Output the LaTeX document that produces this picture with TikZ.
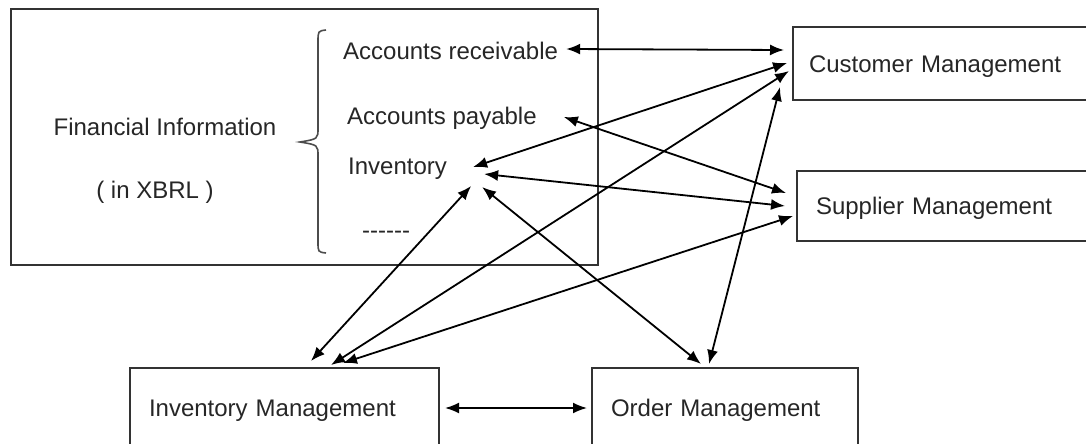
\documentclass[tikz,border=0pt]{standalone}
\usepackage{fontspec}
\setmainfont{Liberation Sans}
\usetikzlibrary{arrows.meta,calc}

\begin{document}
\begin{tikzpicture}[x=1pt,y=-1pt,
    every node/.style={font=\fontsize{24}{28}\selectfont,text=black!85,text height=17pt,text depth=0pt},
    box/.style={draw=black!80,line width=2pt,anchor=north west,align=left,inner ysep=0pt},
    item/.style={anchor=west,inner sep=0pt},
    link/.style={<->,>={Latex[length=14pt,width=11pt]},line width=1.8pt}]
      \path[use as bounding box,clip] (0,0) rectangle (1086,444);
      % financial information in XBRL
      \node[box,minimum width=587pt,minimum height=256pt] (fin) at (10,8) {};
      \node (fi) at (165,127) {Financial Information};
      \node (xb) at (155,190) {( in XBRL )};
      \draw[black!70,line width=1.6pt] (326,30) .. controls (318,31) .. (318,42) -- (318,128)
        .. controls (318,139) .. (300,142) .. controls (318,145) .. (318,156) -- (318,242)
        .. controls (318,252) .. (326,253);
      \node[item] (ar) at (343,51) {Accounts receivable};
      \node[item] (ap) at (347,116) {Accounts payable};
      \node[item] (inv) at (348,166) {Inventory};
      \node[item] (etc) at (362,230) {-\kern0pt-\kern0pt-\kern0pt-\kern0pt-\kern0pt-};
      % management systems
      \node[box,minimum height=73pt,inner xsep=16pt,text width=268pt] (cm) at (792,26) {Customer Management};
      \node[box,minimum height=70pt,inner xsep=19pt,text width=272pt] (sm) at (796,170) {Supplier Management};
      \node[box,minimum height=80pt,inner xsep=19pt,text width=271pt] (im) at (129,367) {Inventory Management};
      \node[box,minimum height=80pt,inner xsep=19pt,text width=228pt] (om) at (591,367) {Order Management};
      % data exchange
      \draw[link] ($(ar.east)+(8,-2)$) -- ($(cm.west)+(-8,-13.5)$);
      \draw[link] ($(ap.east)+(27,1)$) -- ($(sm.west)+(-10,-13)$);
      \draw[link] ($(inv.east)+(26,1)$) -- ($(cm.west)+(-5,-0.5)$);
      \draw[link] ($(inv.east)+(37,8)$) -- ($(sm.west)+(-11,0)$);
      \draw[link] ($(inv.east)+(35,21)$) -- ($(om.north)+(-24,-3)$);
      \draw[link] ($(inv.east)+(24,20)$) -- ($(im.north)+(26.5,-6)$);
      \draw[link] ($(im.north)+(46.5,-2)$) -- ($(cm.west)+(-3,7.5)$);
      \draw[link] ($(im.north)+(58.5,-4)$) -- ($(sm.west)+(-3,10)$);
      \draw[link] ($(om.north)+(-16,-3)$) -- ($(cm.west)+(-12,23.5)$);
      \draw[link] ($(im.east)+(5,0)$) -- ($(om.west)+(-4,0)$);
\end{tikzpicture}
\end{document}
